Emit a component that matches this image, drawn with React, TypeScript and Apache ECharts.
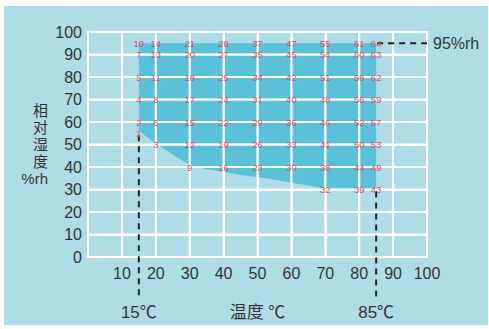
import React, { useEffect, useRef } from "react";
import * as echarts from "echarts";

// Axis ticks (both axes share 0..100 step 10)
const tickValues = [0, 10, 20, 30, 40, 50, 60, 70, 80, 90, 100];

// Temperature-humidity operating zone (outline points)
const zoneTopTemps = [15, 85];
const zoneTopHumid = [95, 95];
const zoneBottomTemps = [85, 73, 70, 65, 60, 55, 50, 45, 40, 35, 30, 25, 20, 15];
const zoneBottomHumid = [30, 30, 30.5, 31.8, 33, 34.3, 35.5, 36.5, 37.8, 39, 41, 45.5, 50.5, 56];

// Numbered test points, by column
const colTemps = [15, 20, 30, 40, 50, 60, 70, 80, 85];
const colIds = [
  [10, 7, 5, 4, 2, 1],
  [14, 13, 11, 8, 6, 3],
  [21, 20, 18, 17, 15, 12, 9],
  [28, 27, 25, 24, 22, 19, 16],
  [37, 35, 34, 31, 29, 26, 23],
  [47, 45, 42, 40, 36, 33, 30],
  [55, 54, 51, 48, 46, 41, 38, 32],
  [61, 60, 58, 56, 52, 50, 44, 39],
  [64, 63, 62, 59, 57, 53, 49, 43],
];
const colHumid = [
  [95, 90, 80, 70, 60, 55],
  [95, 90, 80, 70, 60, 50],
  [95, 90, 80, 70, 60, 50, 40],
  [95, 90, 80, 70, 60, 50, 40],
  [95, 90, 80, 70, 60, 50, 40],
  [95, 90, 80, 70, 60, 50, 40],
  [95, 90, 80, 70, 60, 50, 40, 30],
  [95, 90, 80, 70, 60, 50, 40, 30],
  [95, 90, 80, 70, 60, 50, 40, 30],
];

// Guide lines
const guideTemps = [15, 85];
const guideFromHumid = [55, 30];
const guideLabels = ["15℃", "85℃"];
const rhLimitTemp = 85;
const rhLimit = 95;
const rhLabel = "95%rh";
const xName = "温度 ℃";
const yName = "相\n对\n湿\n度\n%rh";

const LATIN = '"Liberation Sans", Arial, "Noto Sans CJK SC", sans-serif';
const TEXT = "#333333";

type P = number[];

function clipEdge(pts: P[], inside: (p: P) => boolean, cross: (a: P, b: P) => P): P[] {
  const out: P[] = [];
  for (let k = 0; k < pts.length; k++) {
    const cur = pts[k];
    const prev = pts[(k + pts.length - 1) % pts.length];
    const ci = inside(cur);
    const pi = inside(prev);
    if (ci) {
      if (!pi) out.push(cross(prev, cur));
      out.push(cur);
    } else if (pi) {
      out.push(cross(prev, cur));
    }
  }
  return out;
}

function clipToRect(poly: P[], x0: number, x1: number, y0: number, y1: number): P[] {
  const atX = (x: number) => (a: P, b: P): P => {
    const t = (x - a[0]) / (b[0] - a[0]);
    return [x, a[1] + t * (b[1] - a[1])];
  };
  const atY = (y: number) => (a: P, b: P): P => {
    const t = (y - a[1]) / (b[1] - a[1]);
    return [a[0] + t * (b[0] - a[0]), y];
  };
  let r = poly;
  r = clipEdge(r, (p) => p[0] >= x0, atX(x0));
  if (r.length) r = clipEdge(r, (p) => p[0] <= x1, atX(x1));
  if (r.length) r = clipEdge(r, (p) => p[1] >= y0, atY(y0));
  if (r.length) r = clipEdge(r, (p) => p[1] <= y1, atY(y1));
  return r;
}

export default function App() {
  const ref = useRef<HTMLDivElement>(null);

  useEffect(() => {
    if (!ref.current) return;
    const chart = echarts.init(ref.current, null, { renderer: "svg" });

    const zoneOutline: number[][] = [];
    zoneTopTemps.forEach((t, i) => zoneOutline.push([t, zoneTopHumid[i]]));
    zoneBottomTemps.forEach((t, i) => zoneOutline.push([t, zoneBottomHumid[i]]));

    const points: number[][] = [];
    colTemps.forEach((t, c) => {
      colIds[c].forEach((id, r) => points.push([t, colHumid[c][r], id]));
    });

    const tMin = tickValues[0];
    const tMax = tickValues[tickValues.length - 1];

    const option: any = {
      animation: false,
      backgroundColor: "transparent",
      grid: { left: 88, right: 62, top: 32, bottom: 72, containLabel: false },
      xAxis: {
        type: "value",
        min: 0,
        max: 100,
        interval: 10,
        axisLine: { show: true, lineStyle: { color: "#ffffff", width: 2 } },
        axisTick: { show: false },
        splitLine: { show: true, lineStyle: { color: "#ffffff", width: 2 } },
        axisLabel: {
          color: TEXT,
          fontSize: 16,
          fontFamily: LATIN,
          margin: 8,
          formatter: (v: number) => (v === 0 ? "" : String(v)),
        },
      },
      yAxis: {
        type: "value",
        min: 0,
        max: 100,
        interval: 10,
        name: yName,
        nameLocation: "middle",
        nameRotate: 0,
        nameGap: 40,
        nameTextStyle: {
          color: TEXT,
          fontSize: 15,
          lineHeight: 17,
          fontFamily: LATIN,
          align: "right",
        },
        axisLine: { show: true, lineStyle: { color: "#ffffff", width: 2 } },
        axisTick: { show: false },
        splitLine: { show: true, lineStyle: { color: "#ffffff", width: 2 } },
        axisLabel: { color: TEXT, fontSize: 16, fontFamily: LATIN, margin: 6 },
      },
      series: [
        {
          // operating zone, cut per grid cell so the white grid shows through the gaps
          type: "custom",
          z: 1,
          clip: false,
          silent: true,
          data: [[zoneTopTemps[0], zoneTopHumid[0]]],
          renderItem: (_p: any, api: any) => {
            const poly: P[] = zoneOutline.map((pt) => api.coord(pt));
            const children: any[] = [];
            for (let i = 0; i < tickValues.length - 1; i++) {
              for (let j = 0; j < tickValues.length - 1; j++) {
                const tl = api.coord([tickValues[i], tickValues[j + 1]]);
                const br = api.coord([tickValues[i + 1], tickValues[j]]);
                const piece = clipToRect(poly, tl[0] + 1, br[0] - 1, tl[1] + 1, br[1] - 1);
                if (piece.length >= 3) {
                  children.push({
                    type: "polygon",
                    shape: { points: piece },
                    style: { fill: "#5ac1d9" },
                  });
                }
              }
            }
            return { type: "group", children };
          },
        },
        {
          // white grid lines redrawn above the zone
          type: "custom",
          z: 4,
          clip: false,
          silent: true,
          data: tickValues.map((v) => [v, v]),
          renderItem: (_p: any, api: any) => {
            const v = api.value(0);
            const a = api.coord([v, tMax]);
            const b = api.coord([v, tMin]);
            const c = api.coord([tMin, v]);
            const d = api.coord([tMax, v]);
            return {
              type: "group",
              children: [
                {
                  type: "rect",
                  shape: { x: a[0] - 1, y: a[1] - 1, width: 2, height: b[1] - a[1] + 2 },
                  style: { fill: "#ffffff" },
                },
                {
                  type: "rect",
                  shape: { x: c[0] - 1, y: c[1] - 1, width: d[0] - c[0] + 2, height: 2 },
                  style: { fill: "#ffffff" },
                },
              ],
            };
          },
        },
        {
          type: "custom",
          z: 6,
          clip: false,
          data: guideTemps.map((t, i) => [t, guideFromHumid[i], i]),
          renderItem: (_p: any, api: any) => {
            const t = api.value(0);
            const top = api.coord([t, api.value(1)]);
            const base = api.coord([t, 0]);
            return {
              type: "group",
              children: [
                {
                  type: "line",
                  shape: { x1: top[0], y1: top[1] + 2, x2: top[0], y2: base[1] + 40 },
                  style: { stroke: "#222222", lineWidth: 2, lineDash: [6, 5] },
                },
                {
                  type: "text",
                  x: top[0],
                  y: base[1] + 55,
                  style: {
                    text: guideLabels[api.value(2)],
                    fill: TEXT,
                    font: `17px ${LATIN}`,
                    align: "center",
                    verticalAlign: "middle",
                  },
                },
              ],
            };
          },
        },
        {
          type: "custom",
          z: 6,
          clip: false,
          data: [[rhLimitTemp, rhLimit]],
          renderItem: (_p: any, api: any) => {
            const start = api.coord([api.value(0), api.value(1)]);
            const end = api.coord([100, api.value(1)]);
            return {
              type: "group",
              children: [
                {
                  type: "line",
                  shape: { x1: start[0] + 1, y1: start[1], x2: end[0], y2: end[1] },
                  style: { stroke: "#222222", lineWidth: 2, lineDash: [6, 5] },
                },
                {
                  type: "text",
                  x: end[0] + 6,
                  y: end[1],
                  style: {
                    text: rhLabel,
                    fill: TEXT,
                    font: `16px ${LATIN}`,
                    align: "left",
                    verticalAlign: "middle",
                  },
                },
              ],
            };
          },
        },
        {
          type: "custom",
          z: 6,
          clip: false,
          data: [[50, 0]],
          renderItem: (_p: any, api: any) => {
            const p = api.coord([api.value(0), api.value(1)]);
            return {
              type: "text",
              x: p[0],
              y: p[1] + 55,
              style: {
                text: xName,
                fill: TEXT,
                font: `17px ${LATIN}`,
                align: "center",
                verticalAlign: "middle",
              },
            };
          },
        },
        {
          type: "scatter",
          z: 8,
          symbolSize: 1,
          itemStyle: { color: "rgba(0,0,0,0)" },
          data: points,
          label: {
            show: true,
            position: "inside",
            formatter: (p: any) => String(p.value[2]),
            color: "#e5495a",
            fontSize: 9.5,
            fontFamily: LATIN,
            textBorderWidth: 0,
            opacity: 1,
          },
        },
      ],
    };

    chart.setOption(option);
    return () => chart.dispose();
  }, []);

  return (
    <div
      style={{
        position: "fixed",
        left: 0,
        top: 0,
        width: 489,
        height: 329,
        background: "#ffffff",
        overflow: "hidden",
      }}
    >
      <div
        style={{
          position: "absolute",
          left: 4,
          top: 6,
          width: 484,
          height: 319,
          background: "#aedce7",
        }}
      />
      <div ref={ref} style={{ position: "absolute", left: 0, top: 0, width: 489, height: 329 }} />
    </div>
  );
}
